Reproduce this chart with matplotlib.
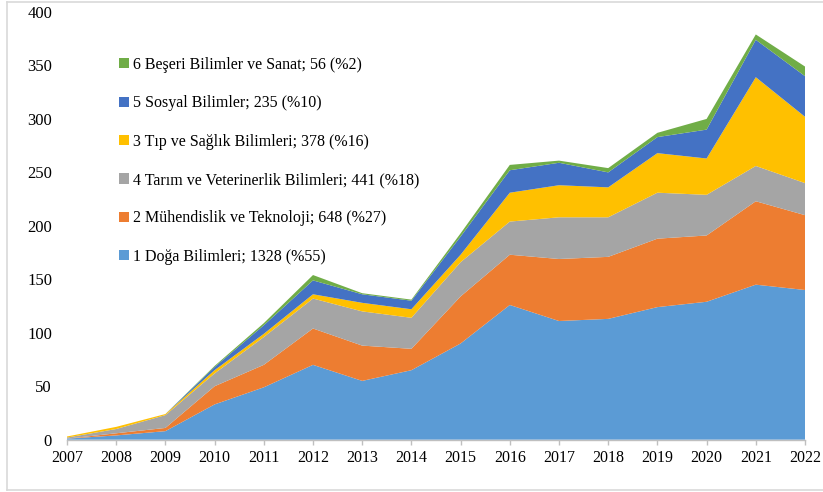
import matplotlib.pyplot as plt
from matplotlib.patches import Patch
from matplotlib.lines import Line2D

years = list(range(2007, 2023))

doga = [1, 4, 8, 33, 49, 70, 55, 65, 90, 126, 111, 113, 124, 129, 145, 140]
muhendislik = [0, 2, 3, 17, 21, 34, 33, 20, 44, 47, 58, 58, 64, 62, 78, 70]
tarim = [1, 4, 12, 12, 26, 28, 32, 29, 32, 31, 39, 37, 43, 38, 33, 30]
tip = [1, 2, 1, 3, 3, 4, 8, 8, 7, 27, 30, 28, 37, 34, 83, 62]
sosyal = [0, 0, 0, 3, 8, 13, 8, 8, 17, 21, 21, 14, 15, 27, 35, 38]
beseri = [0, 0, 0, 1, 2, 5, 1, 1, 3, 5, 2, 4, 4, 10, 5, 9]

labels = ['1 Doğa Bilimleri; 1328 (%55)',
          '2 Mühendislik ve Teknoloji; 648 (%27)',
          '4 Tarım ve Veterinerlik Bilimleri; 441 (%18)',
          '3 Tıp ve Sağlık Bilimleri; 378 (%16)',
          '5 Sosyal Bilimler; 235 (%10)',
          '6 Beşeri Bilimler ve Sanat; 56 (%2)']
colors = ['#5B9BD5', '#ED7D31', '#A5A5A5', '#FFC000', '#4472C4', '#70AD47']

plt.rcParams['font.family'] = ['Liberation Serif', 'DejaVu Serif']

fig = plt.figure(figsize=(8.23, 4.92), dpi=100)
ax = fig.add_axes([67 / 823, 1 - 439.7 / 492, (805 - 67) / 823, (439.7 - 12) / 492])

ax.stackplot(years, doga, muhendislik, tarim, tip, sosyal, beseri,
             colors=colors, linewidth=0)

ax.set_xlim(2007, 2022)
ax.set_ylim(0, 400)
ax.set_xticks(years)
ax.set_yticks(range(0, 401, 50))
ax.tick_params(axis='y', length=0, pad=10.8, labelsize=12)
ax.tick_params(axis='x', length=3.6, color='#BFBFBF', width=1, pad=4, labelsize=11.5)
for s in ['top', 'right', 'left']:
    ax.spines[s].set_visible(False)
ax.spines['bottom'].set_color('#BFBFBF')
ax.spines['bottom'].set_linewidth(1)

handles = [Patch(facecolor=c, edgecolor='none') for c in colors]
fig.legend(handles[::-1], labels[::-1], loc='upper left',
           bbox_to_anchor=(119 / 823, 1 - 57 / 492), frameon=False,
           fontsize=11.5, handlelength=0.6, handleheight=0.6,
           handletextpad=0.3, labelspacing=1.4, borderpad=0, borderaxespad=0)

# outer border of the chart area
border = dict(color='#D9D9D9', linewidth=1.2, transform=fig.transFigure)
fig.add_artist(Line2D([7 / 823, 1], [1 - 2 / 492, 1 - 2 / 492], **border))
fig.add_artist(Line2D([7 / 823, 7 / 823], [1 - 2 / 492, 1 - 490 / 492], **border))
fig.add_artist(Line2D([7 / 823, 1], [1 - 490 / 492, 1 - 490 / 492], **border))

plt.savefig('out.png', dpi=100)
